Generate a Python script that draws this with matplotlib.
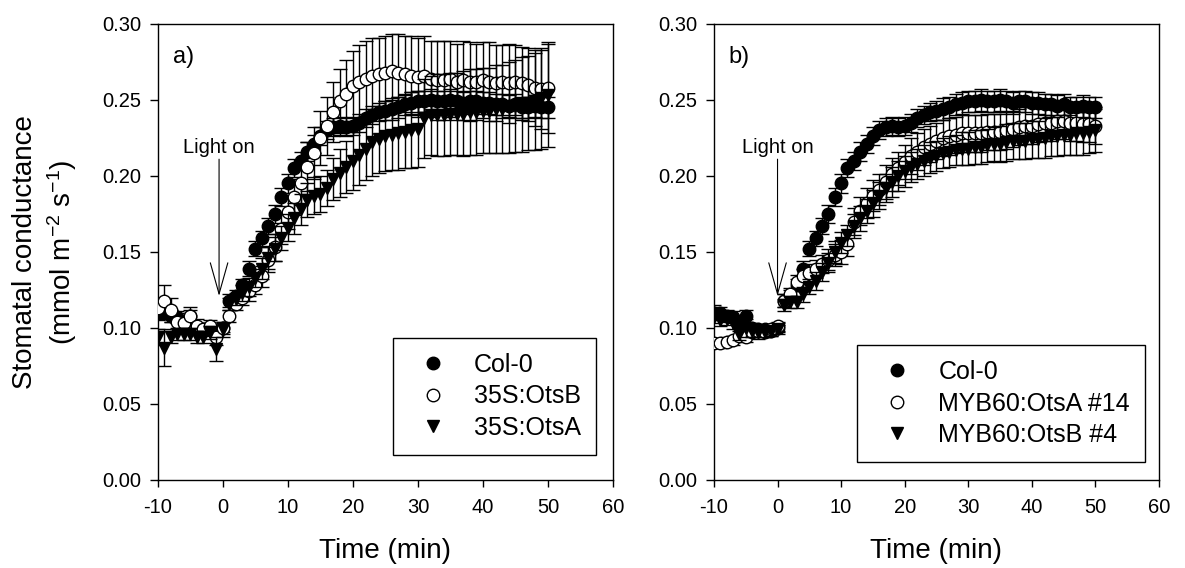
import matplotlib
matplotlib.use('Agg')
import matplotlib.pyplot as plt
from matplotlib.lines import Line2D
import numpy as np

plt.rcParams['font.family'] = ['Liberation Sans', 'DejaVu Sans']
plt.rcParams['mathtext.fontset'] = 'custom'
plt.rcParams['mathtext.rm'] = 'Liberation Sans'
plt.rcParams['mathtext.it'] = 'Liberation Sans:italic'
plt.rcParams['axes.unicode_minus'] = False

# time points (min), one reading per minute
time = list(range(-10, 51))

# Col-0 (same control in both panels)
col0 = [0.110, 0.110, 0.108, 0.107, 0.103, 0.108, 0.100, 0.099, 0.099, 0.098,
        0.100,
        0.118, 0.121, 0.128, 0.139, 0.152, 0.159, 0.167, 0.175, 0.186, 0.195,
        0.205, 0.210, 0.216, 0.221, 0.226, 0.230, 0.232, 0.233, 0.232, 0.233,
        0.235, 0.238, 0.240, 0.242, 0.243, 0.244, 0.245, 0.247, 0.248, 0.249,
        0.249, 0.250, 0.249, 0.249, 0.250, 0.249, 0.248, 0.249, 0.249, 0.248,
        0.248, 0.247, 0.247, 0.246, 0.247, 0.245, 0.245, 0.246, 0.245, 0.245]
col0_err = [0.005, 0.004, 0.004, 0.004, 0.004, 0.004, 0.003, 0.003, 0.003, 0.003,
            0.003,
            0.004, 0.004, 0.004, 0.005, 0.005, 0.005, 0.005, 0.006, 0.006, 0.006,
            0.006, 0.006, 0.006, 0.006, 0.006, 0.006, 0.006, 0.006, 0.006, 0.006,
            0.006, 0.006, 0.006, 0.006, 0.006, 0.007, 0.007, 0.007, 0.007, 0.007,
            0.007, 0.007, 0.007, 0.007, 0.007, 0.007, 0.007, 0.007, 0.007, 0.007,
            0.007, 0.007, 0.007, 0.007, 0.007, 0.007, 0.007, 0.007, 0.007, 0.007]

# panel a
otsb_35s = [0.113, 0.118, 0.112, 0.104, 0.103, 0.108, 0.101, 0.099, 0.101, 0.094,
            0.100,
            0.108, 0.116, 0.120, 0.124, 0.128, 0.134, 0.145, 0.153, 0.165, 0.176,
            0.186, 0.195, 0.206, 0.215, 0.225, 0.233, 0.242, 0.249, 0.254, 0.259,
            0.262, 0.264, 0.266, 0.267, 0.268, 0.269, 0.268, 0.267, 0.266, 0.265,
            0.266, 0.264, 0.263, 0.263, 0.264, 0.262, 0.263, 0.262, 0.262, 0.263,
            0.262, 0.261, 0.262, 0.261, 0.262, 0.261, 0.260, 0.258, 0.257, 0.258]
otsb_35s_err = [0.006, 0.010, 0.008, 0.006, 0.005, 0.006, 0.005, 0.004, 0.004, 0.005,
                0.004,
                0.004, 0.004, 0.005, 0.006, 0.006, 0.007, 0.008, 0.009, 0.010, 0.011,
                0.012, 0.014, 0.016, 0.017, 0.018, 0.019, 0.020, 0.021, 0.022, 0.023,
                0.024, 0.025, 0.025, 0.024, 0.024, 0.024, 0.025, 0.025, 0.026, 0.026,
                0.026, 0.025, 0.026, 0.026, 0.025, 0.025, 0.026, 0.026, 0.025, 0.025,
                0.026, 0.025, 0.024, 0.026, 0.024, 0.024, 0.024, 0.025, 0.026, 0.030]
otsa_35s = [0.094, 0.087, 0.094, 0.096, 0.096, 0.096, 0.094, 0.094, 0.097, 0.086,
            0.099,
            0.116, 0.119, 0.123, 0.127, 0.133, 0.139, 0.146, 0.152, 0.159, 0.166,
            0.172, 0.178, 0.184, 0.187, 0.188, 0.192, 0.198, 0.202, 0.206, 0.210,
            0.214, 0.218, 0.222, 0.224, 0.226, 0.227, 0.228, 0.229, 0.230, 0.231,
            0.238, 0.240, 0.240, 0.240, 0.241, 0.241, 0.241, 0.242, 0.242, 0.243,
            0.243, 0.244, 0.244, 0.245, 0.246, 0.247, 0.248, 0.249, 0.251, 0.253]
otsa_35s_err = [0.005, 0.012, 0.004, 0.004, 0.004, 0.004, 0.004, 0.004, 0.004, 0.008,
                0.005,
                0.004, 0.004, 0.005, 0.006, 0.006, 0.007, 0.007, 0.008, 0.008, 0.009,
                0.010, 0.010, 0.011, 0.012, 0.012, 0.012, 0.014, 0.016, 0.017, 0.019,
                0.020, 0.021, 0.022, 0.022, 0.023, 0.023, 0.024, 0.024, 0.025, 0.025,
                0.026, 0.026, 0.027, 0.027, 0.027, 0.027, 0.028, 0.028, 0.028, 0.028,
                0.028, 0.029, 0.029, 0.030, 0.030, 0.031, 0.031, 0.032, 0.033, 0.034]

# panel b
otsa_myb = [0.090, 0.090, 0.091, 0.092, 0.095, 0.094, 0.097, 0.098, 0.097, 0.099,
            0.101,
            0.118, 0.122, 0.130, 0.134, 0.136, 0.139, 0.142, 0.145, 0.148, 0.150,
            0.155, 0.170, 0.177, 0.182, 0.187, 0.191, 0.196, 0.201, 0.205, 0.209,
            0.213, 0.216, 0.219, 0.221, 0.223, 0.225, 0.226, 0.227, 0.228, 0.228,
            0.228, 0.228, 0.229, 0.229, 0.229, 0.230, 0.231, 0.232, 0.233, 0.233,
            0.234, 0.235, 0.235, 0.236, 0.236, 0.235, 0.235, 0.234, 0.234, 0.233]
otsa_myb_err = [0.003, 0.003, 0.003, 0.003, 0.003, 0.003, 0.003, 0.003, 0.003, 0.003,
                0.003,
                0.004, 0.004, 0.005, 0.005, 0.006, 0.006, 0.006, 0.007, 0.007, 0.008,
                0.008, 0.009, 0.009, 0.010, 0.010, 0.010, 0.011, 0.011, 0.011, 0.011,
                0.012, 0.012, 0.012, 0.012, 0.012, 0.012, 0.012, 0.012, 0.012, 0.012,
                0.012, 0.012, 0.012, 0.012, 0.012, 0.012, 0.012, 0.012, 0.012, 0.012,
                0.012, 0.012, 0.012, 0.012, 0.012, 0.012, 0.012, 0.012, 0.012, 0.012]
otsb_myb = [0.107, 0.105, 0.106, 0.103, 0.096, 0.100, 0.098, 0.097, 0.097, 0.098,
            0.099,
            0.115, 0.117, 0.117, 0.122, 0.127, 0.131, 0.137, 0.143, 0.150, 0.156,
            0.161, 0.167, 0.172, 0.177, 0.182, 0.187, 0.192, 0.196, 0.200, 0.203,
            0.206, 0.208, 0.210, 0.212, 0.213, 0.215, 0.216, 0.217, 0.218, 0.218,
            0.219, 0.219, 0.220, 0.221, 0.221, 0.222, 0.223, 0.223, 0.223, 0.224,
            0.224, 0.225, 0.226, 0.226, 0.227, 0.227, 0.228, 0.228, 0.229, 0.230]
otsb_myb_err = [0.004, 0.004, 0.004, 0.004, 0.004, 0.006, 0.004, 0.004, 0.003, 0.003,
                0.003,
                0.004, 0.004, 0.004, 0.005, 0.005, 0.006, 0.006, 0.006, 0.007, 0.007,
                0.007, 0.008, 0.008, 0.008, 0.009, 0.009, 0.009, 0.010, 0.010, 0.010,
                0.010, 0.010, 0.010, 0.010, 0.010, 0.010, 0.010, 0.010, 0.011, 0.011,
                0.011, 0.011, 0.011, 0.011, 0.012, 0.012, 0.012, 0.012, 0.012, 0.012,
                0.012, 0.013, 0.013, 0.013, 0.013, 0.013, 0.014, 0.014, 0.014, 0.014]

panels = [
    {'tag': 'a)', 'arrow_t': -0.6,
     'series': [('Col-0', col0, col0_err, 'o', 'black'),
                ('35S:OtsB', otsb_35s, otsb_35s_err, 'o', 'white'),
                ('35S:OtsA', otsa_35s, otsa_35s_err, 'v', 'black')],
     'legend_anchor': (0.963, 0.055)},
    {'tag': 'b)', 'arrow_t': 0.0,
     'series': [('Col-0', col0, col0_err, 'o', 'black'),
                ('MYB60:OtsA #14', otsa_myb, otsa_myb_err, 'o', 'white'),
                ('MYB60:OtsB #4', otsb_myb, otsb_myb_err, 'v', 'black')],
     'legend_anchor': (0.9685, 0.039)},
]

fig = plt.figure(figsize=(11.85, 5.68), dpi=100)
axes = [fig.add_axes([0.1333, 0.155, 0.384, 0.803]),
        fig.add_axes([0.6025, 0.155, 0.3755, 0.803])]

for ax, p in zip(axes, panels):
    handles = []
    for k, (name, vals, errs, mk, face) in enumerate(p['series']):
        ax.errorbar(time, vals, yerr=errs, fmt=mk, ms=9, mfc=face, mec='black',
                    mew=1, ecolor='black', elinewidth=1, capsize=5, capthick=1,
                    zorder=3 + k)
        handles.append(Line2D([], [], ls='none', marker=mk, ms=9, mfc=face,
                              mec='black', mew=1, label=name))

    # light-on arrow
    ax.annotate('', xy=(p['arrow_t'], 0.121), xytext=(p['arrow_t'], 0.211),
                arrowprops=dict(arrowstyle='->,head_length=1.6,head_width=0.45',
                                lw=0.8, color='black', shrinkA=0, shrinkB=0,
                                mutation_scale=14), zorder=2)
    ax.text(p['arrow_t'], 0.219, 'Light on', ha='center', va='center', fontsize=14.5)
    ax.text(-7.7, 0.278, p['tag'], ha='left', va='center', fontsize=17)

    ax.set_xlim(-10, 60)
    ax.set_ylim(0, 0.30)
    ax.set_xticks([-10, 0, 10, 20, 30, 40, 50, 60])
    ax.set_yticks([0.00, 0.05, 0.10, 0.15, 0.20, 0.25, 0.30])
    ax.set_yticklabels(['0.00', '0.05', '0.10', '0.15', '0.20', '0.25', '0.30'])
    ax.tick_params(axis='both', direction='out', labelsize=14.5, width=1)
    ax.tick_params(axis='x', length=5, pad=8)
    ax.tick_params(axis='y', length=6, pad=6)
    for s in ax.spines.values():
        s.set_linewidth(1)
    ax.set_xlabel('Time (min)', fontsize=20, labelpad=15)

    leg = ax.legend(handles=handles, loc='lower right',
                    bbox_to_anchor=p['legend_anchor'], fontsize=18,
                    frameon=True, fancybox=False, framealpha=1,
                    edgecolor='black', borderpad=0.6, handlelength=2.0,
                    handletextpad=0.65, labelspacing=0.3, borderaxespad=0)
    leg.get_frame().set_linewidth(1)

fig.text(0.0385, 0.556, 'Stomatal conductance\n(mmol m$^{-2}$ s$^{-1}$)',
         rotation=90, ha='center', va='center', fontsize=20, linespacing=1.3,
         multialignment='center')

fig.savefig('out.png', dpi=100)
